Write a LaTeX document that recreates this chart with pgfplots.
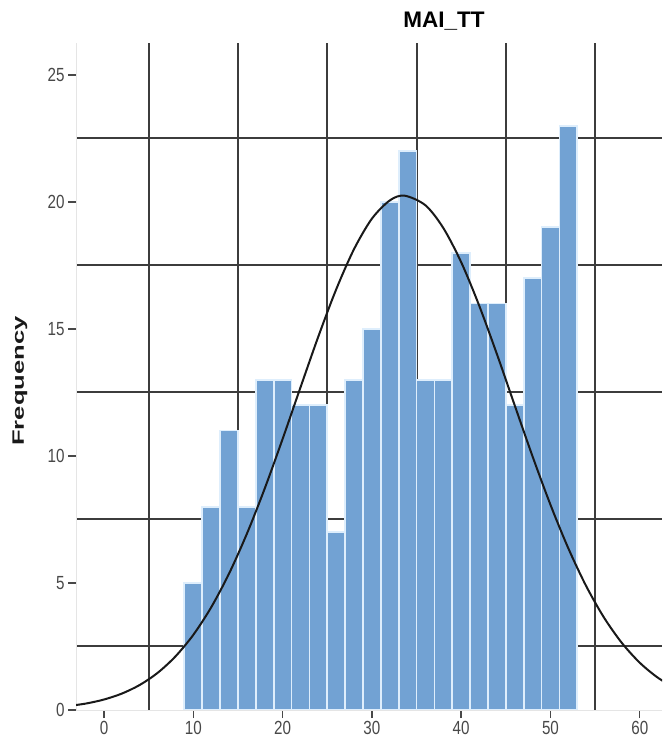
\documentclass[border=0pt]{standalone}
\usepackage{fontspec}
\setmainfont{Liberation Sans}
\newfontfamily\tickfont[FakeStretch=0.8]{Liberation Sans}
\newfontfamily\ylabfont[FakeStretch=1.55]{Liberation Sans}
\usepackage{pgfplots}
\pgfplotsset{compat=1.18}
\usepackage{pgfplotstable}
\definecolor{barblue}{RGB}{114,162,211}
\definecolor{barsep}{RGB}{222,238,252}
\definecolor{gridc}{RGB}{60,60,60}
\definecolor{tickc}{RGB}{72,72,72}
\pgfplotstableread{
x y
10 5
12 8
14 11
16 8
18 13
20 13
22 12
24 12
26 7
28 13
30 15
32 20
34 22
36 13
38 13
40 18
42 16
44 16
46 12
48 17
50 19
52 23
}\histdata
\pgfplotstableread{
x y
-4 0.155
-2 0.256
0 0.413
2 0.647
4 0.986
6 1.462
8 2.110
10 2.960
12 4.043
14 5.370
16 6.940
18 8.724
20 10.672
22 12.700
24 14.703
26 16.560
28 18.146
30 19.344
32 20.061
33.65 20.250
36 19.869
38 18.975
40 17.629
42 15.934
44 14.012
46 11.987
48 9.977
50 8.079
52 6.364
54 4.877
56 3.636
58 2.638
60 1.861
62 1.278
64 0.854
}\normdata
\begin{document}
\begin{tikzpicture}
\useasboundingbox (0,0) rectangle (662pt,742pt);
\begin{axis}[
  at={(76pt,32pt)}, anchor=south west,
  scale only axis, width=586pt, height=667pt,
  xmin=-3.14, xmax=62.49, ymin=0, ymax=26.26,
  axis x line=bottom, axis y line=left,
  axis line style={-, draw=black!10, line width=0.8pt},
  xtick={0,10,...,60}, minor xtick={5,15,...,55},
  ytick={0,5,...,25}, minor ytick={2.5,7.5,...,22.5},
  xminorgrids=true, yminorgrids=true,
  minor grid style={gridc, line width=2pt},
  minor tick length=0pt, major tick length=8pt,
  tick align=outside,
  major tick style={tickc, line width=1.4pt},
  /pgf/number format/assume math mode=true,
  ticklabel style={font=\tickfont\fontsize{19}{22}\selectfont, text=tickc},
]
\addplot[ybar, bar width=2, fill=barblue, draw=barsep, line width=1.8pt] table[x=x,y=y] {\histdata};
\addplot[black!90, line width=2pt, smooth, no marks] table[x=x,y=y] {\normdata};
\end{axis}
\node[font=\bfseries\fontsize{22.5}{27}\selectfont, text=black] at (444pt,721pt) {MAI\_TT};
\node[rotate=90, font=\ylabfont\bfseries\fontsize{16.5}{20}\selectfont, text=black!90] at (20pt,361pt) {Frequency};
\end{tikzpicture}
\end{document}
